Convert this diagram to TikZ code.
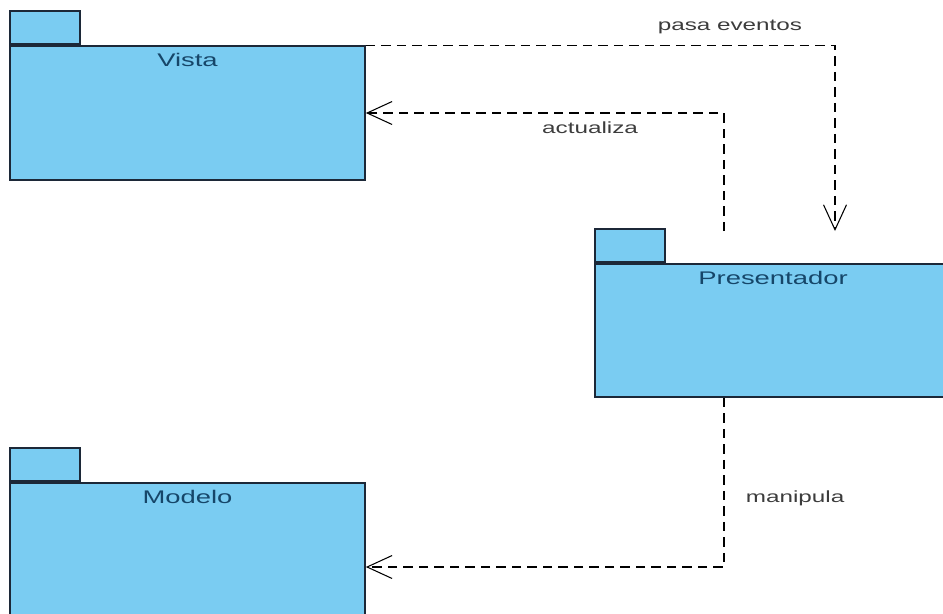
\documentclass[tikz,border=0pt]{standalone}
\usepackage{fontspec}
\setmainfont{Liberation Sans}
\newfontfamily\pkgfont[FakeStretch=1.5]{Liberation Sans}
\usetikzlibrary{arrows.meta}
\definecolor{pkgfill}{RGB}{122,204,242}
\definecolor{pkgline}{RGB}{28,40,56}
\definecolor{pkgtext}{RGB}{22,70,105}
\definecolor{lbltext}{RGB}{60,60,60}

\begin{document}
\begin{tikzpicture}[x=0.02cm,y=-0.02cm,
  pkg/.style={draw=pkgline,fill=pkgfill,line width=1pt,minimum width=7.1cm,inner sep=0pt},
  pkgtab/.style={draw=pkgline,fill=pkgfill,line width=1pt,minimum width=1.4cm,minimum height=0.66cm,inner sep=0pt,anchor=south west},
  pkgname/.style={anchor=north,inner sep=0pt,yshift=-0.15cm,text=pkgtext,font=\pkgfont\fontsize{10.4}{12}\selectfont},
  dep/.style={draw=black,line width=0.6pt,dash pattern=on 0.19cm off 0.12cm,-{Straight Barb[length=0.5cm,width=0.46cm]}},
  deplabel/.style={text=lbltext,font=\pkgfont\fontsize{9.2}{11}\selectfont}]
\path[use as bounding box,clip] (0,0) rectangle (943,613);

\draw (187.5,113) node[pkg,minimum height=2.68cm] (vista) {};
\draw (vista.north west) node[pkgtab] (vistatab) {};
\draw (vista.north) node[pkgname] (vistaname) {Vista};

\draw (773,330.5) node[pkg,minimum width=7.12cm,minimum height=2.66cm] (presentador) {};
\draw (presentador.north west) node[pkgtab] (presentadortab) {};
\draw (presentador.north) node[pkgname] (presentadorname) {Presentador};

\draw (187.5,567) node[pkg,minimum height=3.36cm] (modelo) {};
\draw (modelo.north west) node[pkgtab] (modelotab) {};
\draw (modelo.north) node[pkgname] (modeloname) {Modelo};

\coordinate (evtend) at (835,231);
\coordinate (actstart) at (724,231);

\draw[dep] (vista.north east) -| node[deplabel,pos=0.388,anchor=base,yshift=0.3cm] (evtlabel) {pasa eventos} (evtend);
\draw[dep] (actstart) |- node[deplabel,pos=0.687,anchor=base,yshift=-0.4cm] (actlabel) {actualiza} (vista.east);
\draw[dep] (presentador.south -| actstart) |- node[deplabel,pos=0.31,anchor=base west,xshift=0.31cm] (manlabel) {manipula} (modelo.east);
\end{tikzpicture}
\end{document}
